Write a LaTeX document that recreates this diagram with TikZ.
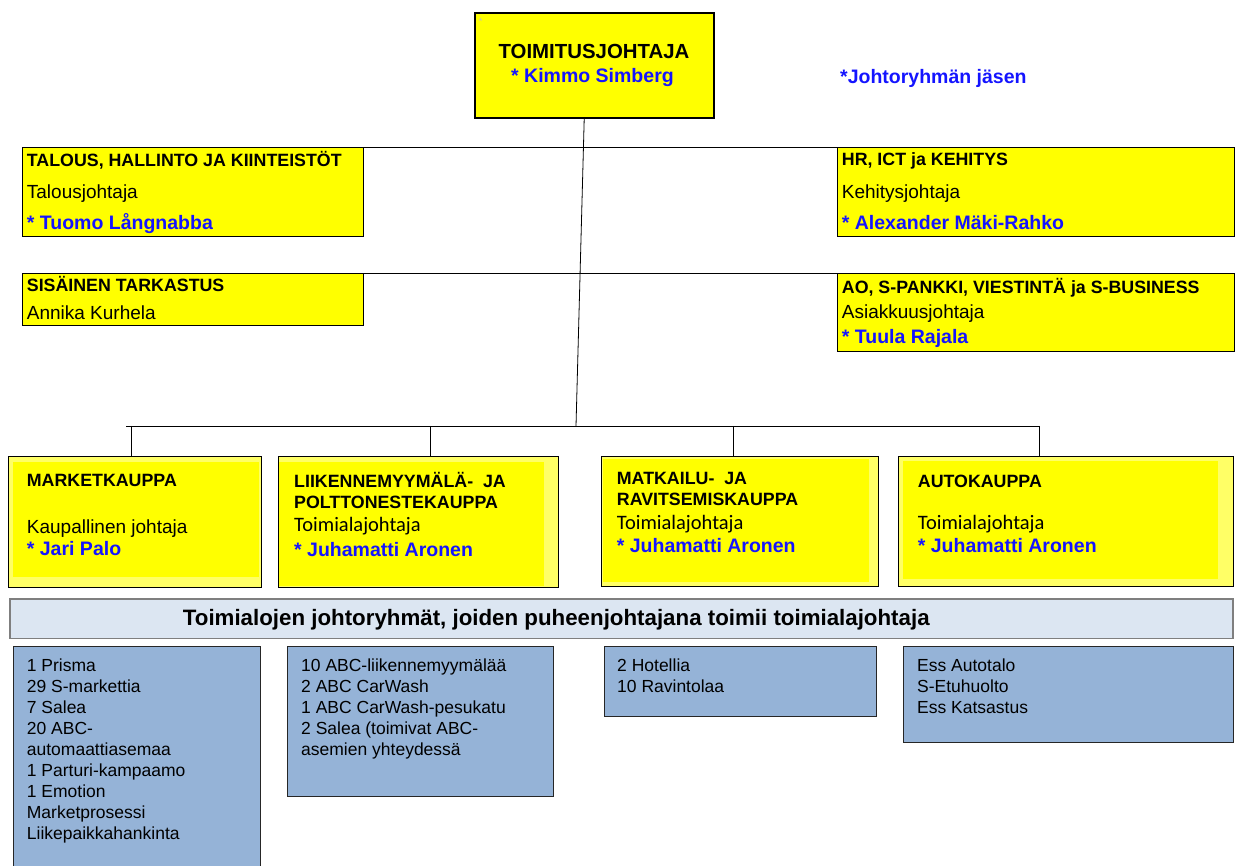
\documentclass[tikz,border=0pt]{standalone}
\usepackage{fontspec}
\setmainfont{Liberation Sans}
\newfontfamily\calibfont{Carlito}
\definecolor{boxyellow}{HTML}{FFFF00}
\definecolor{paleyellow}{HTML}{FFFF66}
\definecolor{namecolor}{HTML}{1414FF}
\definecolor{unitblue}{HTML}{95B3D7}
\definecolor{bannerfill}{HTML}{DCE6F2}
\definecolor{bannerline}{HTML}{7F7F7F}
\begin{document}
\begin{tikzpicture}[x=1pt,y=1pt,yscale=-1,xscale=1,
  ybox/.style={draw, line width=0.9pt, fill=boxyellow, anchor=north west, inner sep=0pt},
  pbox/.style={draw, line width=0.9pt, fill=paleyellow, anchor=north west, inner sep=0pt},
  ubox/.style={draw=black!85, line width=1pt, fill=unitblue, anchor=north west, inner sep=0pt},
  hd/.style={font=\bfseries\fontsize{17.8}{21}\selectfont, anchor=base west, inner sep=0pt},
  rg/.style={font=\fontsize{19}{22}\selectfont, anchor=base west, inner sep=0pt},
  cal/.style={font=\calibfont\fontsize{20.5}{22}\selectfont, anchor=base west, inner sep=0pt},
  nm/.style={font=\bfseries\fontsize{19.5}{22}\selectfont, text=namecolor, anchor=base west, inner sep=0pt},
  lst/.style={font=\fontsize{17.5}{21.1}\selectfont, align=left, anchor=base west, inner sep=0pt},
  conn/.style={line width=0.8pt}]
\useasboundingbox (0,0) rectangle (1237,866);
\fill[white] (0,0) rectangle (1237,866);

%Shape: Rectangle [toimitusjohtaja]
\node[ybox, line width=2.4pt, minimum width=239, minimum height=105] (ceo) at (474,11.7) {};
\node[font=\fontsize{9}{10}\selectfont, text=black!25, inner sep=0pt] (ceostar) at (480.5,21) {*};
\node[font=\bfseries\fontsize{20.4}{22}\selectfont, anchor=base, inner sep=0pt] (ceo1) at (594,58.3) {TOIMITUSJOHTAJA};
\node[nm, anchor=base] (ceo2) at (592.5,82.5) {* Kimmo Simberg};

% Text Node
\node[nm] (legend) at (840,83.5) {*Johtoryhmän jäsen};

%Shape: Rectangle [staff, left]
\node[ybox, minimum width=341.6, minimum height=88.4] (talous) at (21.7,147.3) {};
\node[hd] (talous1) at (26.7,166.3) {TALOUS, HALLINTO JA KIINTEISTÖT};
\node[rg] (talous2) at (26.7,199) {Talousjohtaja};
\node[nm] (talous3) at (26.7,229.3) {* Tuomo Långnabba};

\node[ybox, minimum width=341.6, minimum height=51.7] (sis) at (21.7,273.3) {};
\node[hd] (sis1) at (26.7,291.7) {SISÄINEN TARKASTUS};
\node[rg] (sis2) at (26.7,320) {Annika Kurhela};

%Shape: Rectangle [staff, right]
\node[ybox, minimum width=396.4, minimum height=88.4] (hr) at (837.3,147.3) {};
\node[hd] (hr1) at (841.7,166) {HR, ICT ja KEHITYS};
\node[rg] (hr2) at (841.7,198.3) {Kehitysjohtaja};
\node[nm] (hr3) at (841.7,229.3) {* Alexander Mäki-Rahko};

\node[ybox, minimum width=396.4, minimum height=77.4] (ao) at (837.3,273.3) {};
\node[hd] (ao1) at (841.7,294) {AO, S-PANKKI, VIESTINTÄ ja S-BUSINESS};
\node[rg] (ao2) at (841.7,319) {Asiakkuusjohtaja};
\node[nm] (ao3) at (841.7,344) {* Tuula Rajala};

%Straight Lines
\coordinate (bus) at (576,426);
\coordinate (busL) at (126,426);
\coordinate (busR) at (1039,426);
\coordinate (d1) at (131,426);
\coordinate (d2) at (430,426);
\coordinate (d3) at (733.7,426);
\coordinate (d4) at (1039,426);
\draw[conn] (talous.north east) -- (hr.north west);
\draw[conn] (sis.north east) -- (ao.north west);
\draw[conn] ([xshift=-10.5pt]ceo.south) -- (bus);
\draw[conn] (busL) -- (busR);

%Shape: Rectangle [toimialat]
\node[pbox, minimum width=252.4, minimum height=131] (market) at (8.3,455.7) {};
\fill[boxyellow] (13.3,461.7) rectangle (259.4,576.7);
\node[hd] (market1) at (26.7,486.7) {MARKETKAUPPA};
\node[rg] (market2) at (26.7,533.3) {Kaupallinen johtaja};
\node[nm] (market3) at (26.7,555) {* Jari Palo};

\node[pbox, minimum width=279.4, minimum height=131] (liik) at (278.3,455.7) {};
\fill[boxyellow] (279,461.7) rectangle (544,586.2);
\node[hd] (liik1) at (294,487.3) {LIIKENNEMYYMÄLÄ-\ \ JA};
\node[hd] (liik2) at (294,508.3) {POLTTONESTEKAUPPA};
\node[cal] (liik3) at (294,531.7) {Toimialajohtaja};
\node[nm] (liik4) at (294,556) {* Juhamatti Aronen};

\node[pbox, minimum width=277.6, minimum height=130.3] (matk) at (600.7,455.7) {};
\fill[boxyellow] (603.3,459) rectangle (869.3,581.7);
\node[hd] (matk1) at (616.7,484) {MATKAILU-\ \ JA};
\node[hd] (matk2) at (616.7,505.7) {RAVITSEMISKAUPPA};
\node[cal] (matk3) at (616.7,529) {Toimialajohtaja};
\node[nm] (matk4) at (616.7,552.7) {* Juhamatti Aronen};

\node[pbox, minimum width=335.6, minimum height=130.3] (auto) at (897.7,455.7) {};
\fill[boxyellow] (903.3,461) rectangle (1218.3,579.3);
\node[hd] (auto1) at (917.7,487.3) {AUTOKAUPPA};
\node[cal] (auto2) at (917.7,529) {Toimialajohtaja};
\node[nm] (auto3) at (917.7,552.7) {* Juhamatti Aronen};

\draw[conn] (d1) -- (d1 |- market.north);
\draw[conn] (d2) -- (d2 |- liik.north);
\draw[conn] (d3) -- (d3 |- matk.north);
\draw[conn] (d4) -- (d4 |- auto.north);

%Shape: Rectangle [johtoryhmat]
\node[draw=bannerline, line width=1.6pt, fill=bannerfill, anchor=north west, inner sep=0pt,
  minimum width=1223, minimum height=39.7] (banner) at (9,598) {};
\node[font=\bfseries\fontsize{22.3}{24}\selectfont, anchor=base west, inner sep=0pt] (banner1) at (182.7,625)
  {Toimialojen johtoryhmät, joiden puheenjohtajana toimii toimialajohtaja};

%Shape: Rectangle [yksikot] -- lists sit on the baseline of their last line
\node[ubox, minimum width=247.3, minimum height=240] (units1) at (12.7,645.7) {};
\node[lst] (units1t) at (26.7,839.8) {1 Prisma\\29 S-markettia\\7 Salea\\20 ABC-\\automaattiasemaa\\1 Parturi-kampaamo\\1 Emotion\\Marketprosessi\\Liikepaikkahankinta};
\node[ubox, minimum width=265.7, minimum height=150] (units2) at (287.3,646) {};
\node[lst] (units2t) at (301,755.4) {10 ABC-liikennemyymälää\\2 ABC CarWash\\1 ABC CarWash-pesukatu\\2 Salea (toimivat ABC-\\asemien yhteydessä};
\node[ubox, minimum width=272, minimum height=70] (units3) at (604,646) {};
\node[lst] (units3t) at (617,692.1) {2 Hotellia\\10 Ravintolaa};
\node[ubox, minimum width=329.7, minimum height=96] (units4) at (903,645.7) {};
\node[lst] (units4t) at (917,713.2) {Ess Autotalo\\S-Etuhuolto\\Ess Katsastus};

\end{tikzpicture}
\end{document}
